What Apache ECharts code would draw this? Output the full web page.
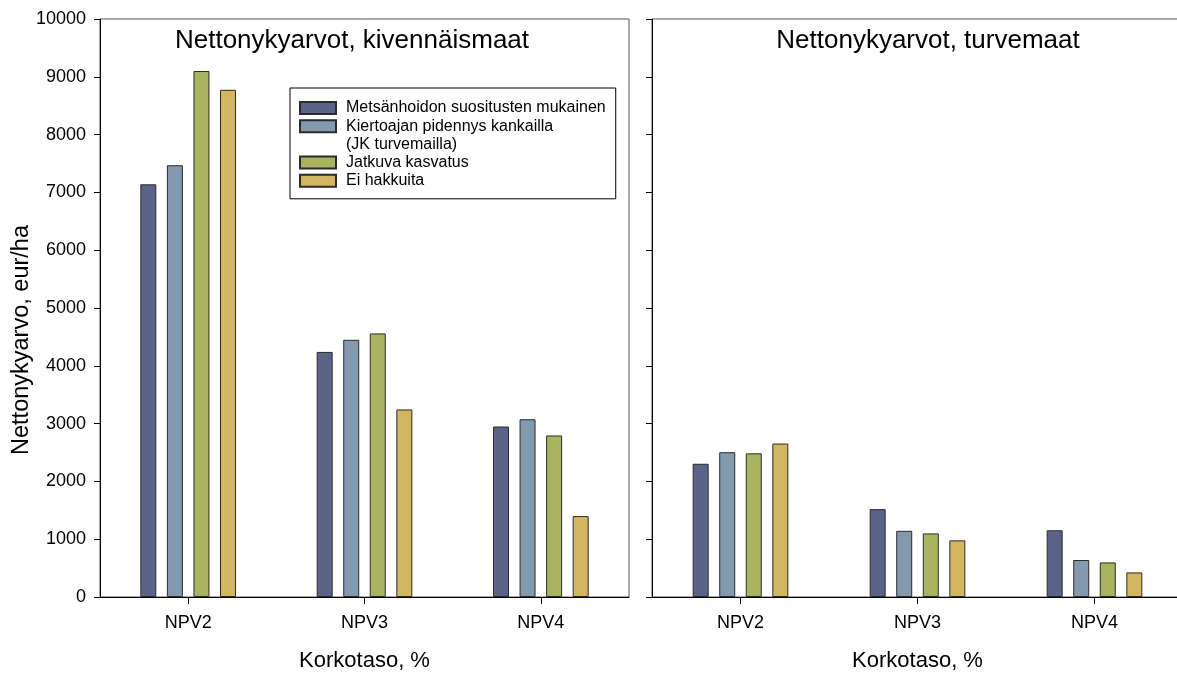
<!DOCTYPE html>
<html>
<head>
<meta charset="utf-8">
<script src="https://cdn.jsdelivr.net/npm/echarts@6/dist/echarts.min.js"></script>
<style>
html,body{margin:0;padding:0;background:#fff;}
#chart{width:1177px;height:673px;}
</style>
</head>
<body>
<div id="chart"></div>
<script>
// ---- Data ----
const categories = ['NPV2', 'NPV3', 'NPV4'];
const seriesNames = [
  'Metsänhoidon suositusten mukainen',
  'Kiertoajan pidennys kankailla',
  'Jatkuva kasvatus',
  'Ei hakkuita'
];
const legendExtraLine = '(JK turvemailla)';
const panelTitles = ['Nettonykyarvot, kivennäismaat', 'Nettonykyarvot, turvemaat'];
const yAxisTitle = 'Nettonykyarvo, eur/ha';
const xAxisTitle = 'Korkotaso, %';

// Kivennäismaat (mineral soils)
const kivMetsanhoito = [7140, 4240, 2950];
const kivKiertoaika  = [7470, 4450, 3075];
const kivJatkuva     = [9100, 4560, 2795];
const kivEiHakkuita  = [8775, 3245, 1400];
// Turvemaat (peatlands)
const turMetsanhoito = [2305, 1520, 1155];
const turKiertoaika  = [2505, 1145, 640];
const turJatkuva     = [2485, 1100, 598];
const turEiHakkuita  = [2655, 980, 425];

const yMin = 0, yMax = 10000, yStep = 1000;

// ---- Styling ----
const FONT = '"Liberation Sans", Arial, sans-serif';
const colors = ['#5b6388', '#8399ae', '#a9b45f', '#d3b660'];
const kivData = [kivMetsanhoito, kivKiertoaika, kivJatkuva, kivEiHakkuita];
const turData = [turMetsanhoito, turKiertoaika, turJatkuva, turEiHakkuita];

function makeBars(dataSets, gridIdx) {
  return dataSets.map((d, i) => ({
    type: 'bar',
    name: seriesNames[i],
    xAxisIndex: gridIdx,
    yAxisIndex: gridIdx,
    data: d,
    barWidth: 16,
    barGap: '66%',
    itemStyle: { color: colors[i], borderColor: '#2b2b2b', borderWidth: 1 },
    emphasis: { disabled: true }
  }));
}

function xAxis(gridIdx) {
  return {
    type: 'category',
    gridIndex: gridIdx,
    data: categories,
    name: xAxisTitle,
    nameLocation: 'middle',
    nameGap: 53,
    nameMoveOverlap: false,
    nameTextStyle: { fontFamily: FONT, fontSize: 22, color: '#000' },
    axisLine: { show: true, lineStyle: { color: '#000', width: 1 } },
    axisTick: { show: true, alignWithLabel: true, length: 7, lineStyle: { color: '#000' } },
    axisLabel: { fontFamily: FONT, fontSize: 18, color: '#000', margin: 17 },
    splitLine: { show: false }
  };
}

function yAxis(gridIdx, showLabels) {
  return {
    type: 'value',
    gridIndex: gridIdx,
    min: yMin, max: yMax, interval: yStep,
    name: showLabels ? yAxisTitle : '',
    nameLocation: 'middle',
    nameGap: 66,
    nameMoveOverlap: false,
    nameTextStyle: { fontFamily: FONT, fontSize: 23.5, color: '#000', padding: [0, 64, 0, 0] },
    axisLine: { show: true, lineStyle: { color: '#000', width: 1 } },
    axisTick: { show: true, length: 6, lineStyle: { color: '#000' } },
    axisLabel: { show: showLabels, fontFamily: FONT, fontSize: 18, color: '#000', margin: 14,
      formatter: v => String(v) },
    splitLine: { show: false }
  };
}

const chart = echarts.init(document.getElementById('chart'), null, { renderer: 'canvas' });
chart.setOption({
  animation: false,
  backgroundColor: '#fff',
  title: [
    { text: panelTitles[0], left: 352, top: 28, textAlign: 'center', padding: 0,
      textStyle: { fontFamily: FONT, fontSize: 26, fontWeight: 'normal', color: '#000' } },
    { text: panelTitles[1], left: 928, top: 28, textAlign: 'center', padding: 0,
      textStyle: { fontFamily: FONT, fontSize: 26, fontWeight: 'normal', color: '#000' } }
  ],
  grid: [
    { left: 100, top: 19, width: 529, height: 578, show: true, borderColor: '#555', borderWidth: 1,
      containLabel: false, outerBoundsMode: 'none' },
    { left: 652, top: 19, width: 531, height: 578, show: true, borderColor: '#555', borderWidth: 1,
      containLabel: false, outerBoundsMode: 'none' }
  ],
  legend: {
    orient: 'vertical',
    left: 290, top: 88,
    padding: [11, 10, 9, 9],
    itemWidth: 36, itemHeight: 12, itemGap: 0.2,
    icon: 'rect',
    selectedMode: false,
    borderColor: '#000', borderWidth: 1, backgroundColor: '#fff',
    textStyle: { fontFamily: FONT, fontSize: 16, lineHeight: 18, color: '#000', padding: [0, 0, 0, 5] },
    data: [
      seriesNames[0],
      seriesNames[1],
      { name: legendExtraLine, icon: 'rect', itemStyle: { color: 'rgba(0,0,0,0)', borderColor: 'rgba(0,0,0,0)', borderWidth: 0 } },
      seriesNames[2],
      seriesNames[3]
    ]
  },
  xAxis: [xAxis(0), xAxis(1)],
  yAxis: [yAxis(0, true), yAxis(1, false)],
  series: [
    ...makeBars(kivData, 0),
    ...makeBars(turData, 1),
    { type: 'scatter', name: legendExtraLine, xAxisIndex: 0, yAxisIndex: 0, data: [],
      itemStyle: { color: 'rgba(0,0,0,0)' } }
  ]
});
</script>
</body>
</html>
